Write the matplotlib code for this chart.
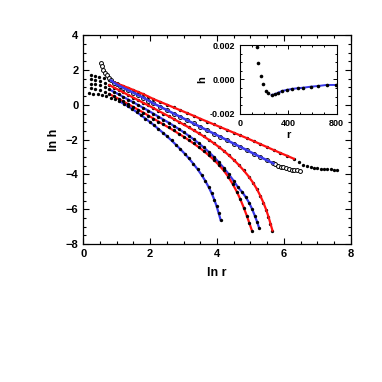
import numpy as np
import matplotlib
matplotlib.use("Agg")
import matplotlib.pyplot as plt
from matplotlib.ticker import MultipleLocator

plt.rcParams['font.family'] = ['Liberation Sans', 'DejaVu Sans']
plt.rcParams['font.weight'] = 'bold'

RED = '#ff1010'
BLUE = '#3838e8'

# ---- main panel data: ln r, ln h ----
xa = [0.22, 0.35, 0.48, 0.62, 0.76, 0.90, 1.05, 1.20, 1.35, 1.50, 1.65, 1.80, 1.95, 2.10, 2.30,
      2.50, 2.70, 2.90, 3.10, 3.30, 3.50, 3.70, 3.90, 4.10, 4.30, 4.50, 4.70, 4.90, 5.10, 5.30,
      5.50, 5.70, 5.90, 6.10, 6.30, 6.45, 6.58, 6.70, 6.80, 6.90, 7.00, 7.10, 7.20, 7.30, 7.40,
      7.50, 7.60]
ya = [1.70, 1.66, 1.60, 1.52, 1.42, 1.30, 1.19, 1.08, 0.97, 0.85, 0.73, 0.61, 0.47, 0.33, 0.17,
      0.01, -0.15, -0.31, -0.47, -0.63, -0.80, -0.96, -1.12, -1.28, -1.44, -1.60, -1.76, -1.92,
      -2.09, -2.26, -2.43, -2.60, -2.77, -2.93, -3.10, -3.30, -3.44, -3.52, -3.57, -3.61, -3.64,
      -3.66, -3.68, -3.70, -3.71, -3.72, -3.73]

xb = [0.53, 0.56, 0.60, 0.65, 0.70, 0.76, 0.83, 0.91, 1.00, 1.10, 1.20, 1.35, 1.50, 1.65, 1.80,
      1.95, 2.10, 2.30, 2.50, 2.70, 2.90, 3.10, 3.30, 3.50, 3.70, 3.90, 4.10, 4.30, 4.50, 4.70,
      4.90, 5.10, 5.30, 5.50, 5.69, 5.75, 5.83, 5.91, 5.99, 6.07, 6.15, 6.23, 6.31, 6.39, 6.47]
yb = [2.40, 2.20, 2.02, 1.85, 1.70, 1.55, 1.40, 1.28, 1.17, 1.07, 0.97, 0.83, 0.69, 0.55, 0.40,
      0.24, 0.08, -0.11, -0.30, -0.50, -0.69, -0.88, -1.07, -1.27, -1.46, -1.65, -1.84, -2.03,
      -2.23, -2.42, -2.61, -2.81, -3.00, -3.19, -3.37, -3.42, -3.49, -3.55, -3.60, -3.65, -3.69,
      -3.72, -3.74, -3.76, -3.78]

xc = [0.22, 0.36, 0.50, 0.64, 0.78, 0.92, 1.06, 1.20, 1.35, 1.50, 1.65, 1.80, 1.95, 2.10, 2.25,
      2.40, 2.55, 2.70, 2.85, 3.00, 3.15, 3.30, 3.45, 3.60, 3.75, 3.90, 4.05, 4.20, 4.35, 4.50,
      4.65, 4.80, 4.95, 5.08, 5.20, 5.30, 5.39, 5.47, 5.54, 5.60, 5.66]
yc = [1.47, 1.43, 1.36, 1.26, 1.13, 0.99, 0.85, 0.71, 0.56, 0.41, 0.26, 0.11, -0.04, -0.19,
      -0.35, -0.50, -0.65, -0.81, -0.97, -1.13, -1.29, -1.46, -1.63, -1.81, -2.00, -2.20, -2.41,
      -2.64, -2.89, -3.16, -3.45, -3.77, -4.12, -4.48, -4.86, -5.24, -5.62, -6.02, -6.42, -6.82,
      -7.22]

xd = [0.22, 0.36, 0.50, 0.64, 0.78, 0.92, 1.06, 1.20, 1.35, 1.50, 1.65, 1.80, 1.95, 2.10, 2.25,
      2.40, 2.55, 2.70, 2.85, 3.00, 3.15, 3.30, 3.45, 3.60, 3.75, 3.90, 4.05, 4.20, 4.35, 4.50,
      4.63, 4.75, 4.86, 4.96, 5.05, 5.13, 5.20, 5.26]
yd = [1.22, 1.18, 1.11, 1.01, 0.88, 0.74, 0.60, 0.45, 0.30, 0.14, -0.02, -0.18, -0.34, -0.51,
      -0.68, -0.85, -1.02, -1.20, -1.38, -1.57, -1.77, -1.98, -2.20, -2.44, -2.70, -2.98, -3.29,
      -3.62, -3.98, -4.37, -4.74, -5.00, -5.30, -5.62, -5.98, -6.36, -6.72, -7.07]

xe = [0.22, 0.36, 0.50, 0.64, 0.78, 0.92, 1.06, 1.20, 1.35, 1.50, 1.65, 1.80, 1.95, 2.10, 2.25,
      2.40, 2.55, 2.70, 2.85, 3.00, 3.15, 3.30, 3.45, 3.60, 3.75, 3.90, 4.05, 4.20, 4.34, 4.47,
      4.59, 4.70, 4.80, 4.89, 4.97, 5.05]
ye = [0.94, 0.91, 0.85, 0.75, 0.62, 0.48, 0.34, 0.19, 0.03, -0.13, -0.29, -0.45, -0.62, -0.79,
      -0.96, -1.13, -1.30, -1.47, -1.65, -1.83, -2.02, -2.22, -2.43, -2.65, -2.89, -3.15, -3.44,
      -3.77, -4.14, -4.55, -4.98, -5.43, -5.90, -6.36, -6.80, -7.25]

xf = [0.17, 0.30, 0.43, 0.56, 0.69, 0.82, 0.95, 1.08, 1.21, 1.34, 1.47, 1.60, 1.73, 1.86, 1.99,
      2.12, 2.25, 2.38, 2.51, 2.64, 2.77, 2.90, 3.03, 3.16, 3.29, 3.42, 3.54, 3.65, 3.75, 3.84,
      3.92, 3.99, 4.05, 4.11]
yf = [0.65, 0.64, 0.62, 0.57, 0.50, 0.41, 0.31, 0.20, 0.06, -0.09, -0.25, -0.42, -0.60, -0.79,
      -0.98, -1.18, -1.39, -1.60, -1.82, -2.05, -2.29, -2.54, -2.80, -3.08, -3.38, -3.70, -4.03,
      -4.37, -4.72, -5.08, -5.45, -5.83, -6.22, -6.62]

# ---- inset data: r, h ----
r_in = [138, 151, 171, 190, 213, 234, 262, 290, 317, 350, 386, 433, 477, 524, 587, 648, 717, 792]
h_in = [0.00187, 0.00094, 0.00022, -0.00028, -0.00065, -0.00080, -0.00090, -0.00086, -0.00077,
        -0.00067, -0.00061, -0.00055, -0.00051, -0.00048, -0.00042, -0.00038, -0.00032, -0.00032]

# (x, y, fit color, first index of fit, last index of fit, open markers, fit drawn over points)
series = [
    (xa, ya, RED, 5, 35, False, True),
    (xb, yb, BLUE, 6, 35, True, True),
    (xc, yc, RED, 4, len(xc), False, True),
    (xd, yd, BLUE, 4, len(xd), False, False),
    (xe, ye, RED, 4, len(xe), False, False),
    (xf, yf, BLUE, 7, len(xf), False, False),
]

fig = plt.figure(figsize=(3.82, 3.82), dpi=100)
ax = fig.add_axes([0.218, 0.361, 0.700, 0.547])

for x, y, col, i0, i1, hollow, on_top in series:
    x = np.array(x); y = np.array(y)
    ax.plot(x[i0:i1], y[i0:i1], '-', color=col, lw=1.8 if hollow else 1.6,
            zorder=4 if on_top else 2)
    if hollow:
        ax.plot(x, y, 'o', ms=2.8, mfc='white', mec='black', mew=0.7, zorder=3)
    else:
        ax.plot(x, y, 'o', ms=2.4, color='black', mew=0, zorder=3)

ax.set_xlim(0, 8); ax.set_ylim(-8, 4)
ax.xaxis.set_major_locator(MultipleLocator(2)); ax.xaxis.set_minor_locator(MultipleLocator(0.5))
ax.yaxis.set_major_locator(MultipleLocator(2)); ax.yaxis.set_minor_locator(MultipleLocator(0.5))
ax.tick_params(which='both', direction='in', top=True, right=True, labelsize=8, width=0.8)
ax.tick_params(which='major', length=4); ax.tick_params(which='minor', length=2)
ax.set_xlabel('ln r', fontsize=9, fontweight='bold', labelpad=6)
ax.set_ylabel('ln h', fontsize=9, fontweight='bold', labelpad=4)
for s in ax.spines.values():
    s.set_linewidth(0.9)

# inset
ins = fig.add_axes([0.628, 0.702, 0.253, 0.180])
ins.plot(r_in[6:], h_in[6:], '-', color=BLUE, lw=1.4, zorder=2)
ins.plot(r_in, h_in, 'o', ms=2.6, color='black', mew=0, zorder=3)
ins.set_xlim(0, 800); ins.set_ylim(-0.002, 0.002)
ins.set_xticks([0, 400, 800]); ins.set_yticks([-0.002, 0.0, 0.002])
ins.set_yticklabels(['-0.002', '0.000', '0.002'])
ins.xaxis.set_minor_locator(MultipleLocator(100)); ins.yaxis.set_minor_locator(MultipleLocator(0.0005))
ins.tick_params(which='both', direction='in', top=True, right=True, labelsize=6.5, width=0.7)
ins.tick_params(which='major', length=3); ins.tick_params(which='minor', length=1.5)
ins.set_xlabel('r', fontsize=8, fontweight='bold', labelpad=2)
ins.set_ylabel('h', fontsize=8, fontweight='bold', labelpad=2)
for s in ins.spines.values():
    s.set_linewidth(0.8)

fig.savefig('out.png', dpi=100)
